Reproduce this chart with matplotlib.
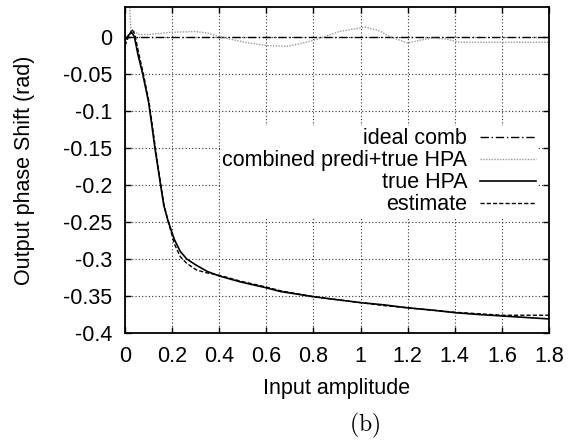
import matplotlib
matplotlib.use("Agg")
import matplotlib.pyplot as plt
from matplotlib.ticker import FormatStrFormatter

plt.rcParams['font.family'] = ['Liberation Sans', 'DejaVu Sans']
plt.rcParams['axes.unicode_minus'] = False
plt.rcParams['mathtext.fontset'] = 'cm'

# true HPA phase response
x_true = [0.0, 0.015, 0.028, 0.04, 0.055, 0.075, 0.1, 0.112, 0.127, 0.151, 0.165,
          0.184, 0.21, 0.235, 0.262, 0.3, 0.35, 0.4, 0.49, 0.6, 0.66, 0.8, 0.9, 1.0,
          1.1, 1.2, 1.3, 1.4, 1.5, 1.6, 1.7, 1.8]
y_true = [-0.005, 0.002, 0.006, 0.0, -0.024, -0.05, -0.088, -0.115, -0.15, -0.2, -0.228,
          -0.25, -0.274, -0.29, -0.3, -0.308, -0.317, -0.323, -0.331, -0.339, -0.344, -0.351, -0.355, -0.359,
          -0.362, -0.366, -0.369, -0.3725, -0.375, -0.377, -0.379, -0.381]

# estimated phase response
x_est = [0.0, 0.015, 0.03, 0.042, 0.058, 0.078, 0.102, 0.114, 0.129, 0.152, 0.166,
         0.184, 0.21, 0.235, 0.262, 0.304, 0.35, 0.4, 0.49, 0.6, 0.66, 0.8, 0.9, 1.0,
         1.1, 1.2, 1.3, 1.4, 1.5, 1.6, 1.7, 1.8]
y_est = [-0.012, 0.0, 0.01, 0.003, -0.022, -0.05, -0.088, -0.115, -0.15, -0.2, -0.228,
         -0.25, -0.28, -0.297, -0.306, -0.315, -0.319, -0.322, -0.330, -0.338, -0.343, -0.351, -0.355, -0.359,
         -0.363, -0.366, -0.369, -0.372, -0.374, -0.376, -0.376, -0.376]

# predistorter + HPA combined
x_comb = [0.0, 0.018, 0.025, 0.035, 0.06, 0.1, 0.2, 0.3, 0.35, 0.4, 0.5, 0.6, 0.69,
          0.75, 0.81, 0.91, 1.02, 1.08, 1.125, 1.2, 1.25, 1.3, 1.36, 1.42, 1.6, 1.8]
y_comb = [0.08, 0.05, 0.012, 0.008, 0.003, 0.003, 0.006, 0.007, 0.005, 0.0, -0.007, -0.012, -0.013,
          -0.009, -0.004, 0.007, 0.013, 0.008, 0.0, -0.0085, -0.005, -0.002, -0.003, -0.0075, -0.0075, -0.0075]

# ideal combination
x_ideal = [0.0, 1.8]
y_ideal = [0.0, 0.0]

xticks = [0, 0.2, 0.4, 0.6, 0.8, 1.0, 1.2, 1.4, 1.6, 1.8]
yticks = [0, -0.05, -0.1, -0.15, -0.2, -0.25, -0.3, -0.35, -0.4]

fig = plt.figure(figsize=(5.77, 4.42), dpi=100)
ax = fig.add_axes([0.2166, 0.2466, 0.7349, 0.7374])

ax.plot(x_ideal, y_ideal, color='black', lw=1.0, ls=(0, (6, 2, 1, 2)), label='ideal comb')
ax.plot(x_comb, y_comb, color='0.6', lw=1.0, ls=(0, (1, 1)), label='combined predi+true HPA')
ax.plot(x_true, y_true, color='black', lw=1.2, label='true HPA')
ax.plot(x_est, y_est, color='black', lw=1.0, ls=(0, (3, 1.5)), label='estimate')

ax.set_xlim(0, 1.8)
ax.set_ylim(-0.4, 0.04)
ax.set_xticks(xticks)
ax.set_yticks(yticks)
ax.xaxis.set_major_formatter(FormatStrFormatter('%g'))
ax.yaxis.set_major_formatter(FormatStrFormatter('%g'))
ax.tick_params(direction='in', top=True, right=True, length=4.5, width=1,
               labelsize=15.5)
ax.tick_params(axis='x', pad=9)
ax.tick_params(axis='y', pad=9)
ax.grid(True, color='0.2', ls=(0, (1, 2)), lw=0.8)
for s in ax.spines.values():
    s.set_linewidth(1.3)
    s.set_zorder(6)

ax.set_xlabel('Input amplitude', fontsize=15.5)
ax.set_ylabel('Output phase Shift (rad)', fontsize=15.5)
ax.xaxis.set_label_coords(0.5, -0.138)
ax.yaxis.set_label_coords(-0.212, 0.5)

leg = ax.legend(loc='center right', bbox_to_anchor=(1.0, 0.495), markerfirst=False,
                frameon=True, fancybox=False, framealpha=1, edgecolor='none',
                facecolor='white', fontsize=15.5, handlelength=2.6, handletextpad=0.6,
                labelspacing=0.05, borderpad=0.1)

fig.text(0.631, 0.038, r'$\mathrm{(b)}$', fontsize=17, ha='center', va='center')

fig.savefig('out.png', dpi=100)
